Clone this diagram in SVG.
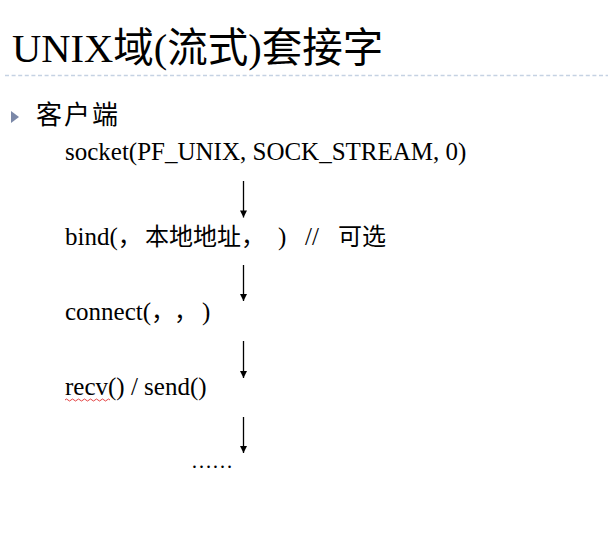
<svg xmlns="http://www.w3.org/2000/svg" width="608" height="544" viewBox="0 0 608 544">
  <defs>
    <style>
      .title { font-family: "Liberation Serif", "Noto Sans CJK SC", serif; font-size: 40.5px; fill: #000; }
      .bul { font-family: "Noto Sans CJK SC", "Noto Sans", sans-serif; font-size: 26px; fill: #000; letter-spacing: 2px; }
      .code { font-family: "Liberation Serif", "Noto Sans CJK SC", serif; font-size: 25px; fill: #000; }
      .cjk { font-family: "Noto Sans CJK SC", sans-serif; font-size: 24px; fill: #000; }
      .conn { stroke: #000; stroke-width: 1.3; fill: none; }
    </style>
    <marker id="ah" viewBox="0 0 10 10" refX="10" refY="5" markerWidth="8" markerHeight="7" markerUnits="userSpaceOnUse" orient="auto">
      <path d="M0,0 L10,5 L0,10 Z" fill="#000"/>
    </marker>
  </defs>
  <rect width="608" height="544" fill="#fff"/>

  <g id="title">
    <text class="title" x="12" y="62">UNIX域(流式)套接字</text>
    <line x1="5" y1="75.5" x2="608" y2="75.5" stroke="#c5d2e3" stroke-width="1.5" stroke-dasharray="4 2.6"/>
  </g>

  <g id="bullet">
    <polygon points="11,111 19,117 11,123" fill="#7b88a8"/>
    <text class="bul" x="36" y="124">客户端</text>
  </g>

  <g id="socket">
    <text class="code" x="65" y="160">socket(PF_UNIX, SOCK_STREAM, 0)</text>
  </g>

  <g id="bind">
    <text class="code" x="65" y="245">bind(<tspan class="cjk">，</tspan></text>
    <text class="cjk" x="145" y="245">本地地址，</text>
    <text class="code" x="278" y="245">)</text>
    <text class="code" x="305" y="245">//</text>
    <text class="cjk" x="338" y="245">可选</text>
  </g>

  <g id="connect">
    <text class="code" x="65" y="320">connect(<tspan class="cjk">，</tspan></text>
    <text class="cjk" x="174" y="320">，</text>
    <text class="code" x="202" y="320">)</text>
  </g>

  <g id="recvsend">
    <text class="code" x="65" y="395">recv() / send()</text>
    <path d="M65,400 q1.5,-2 3,0 t3,0 t3,0 t3,0 t3,0 t3,0 t3,0 t3,0 t3,0 t3,0 t3,0 t3,0 t3,0 t3,0 t3,0" stroke="#e03030" stroke-width="0.9" fill="none"/>
  </g>

  <g id="more">
    <text class="code" x="191" y="468" style="font-size:21px">……</text>
  </g>

  <g id="connectors">
    <line class="conn" x1="243.5" y1="181" x2="243.5" y2="217.5" marker-end="url(#ah)"/>
    <line class="conn" x1="243.5" y1="265" x2="243.5" y2="301" marker-end="url(#ah)"/>
    <line class="conn" x1="243.5" y1="341" x2="243.5" y2="378" marker-end="url(#ah)"/>
    <line class="conn" x1="243.5" y1="417" x2="243.5" y2="453" marker-end="url(#ah)"/>
  </g>
</svg>
